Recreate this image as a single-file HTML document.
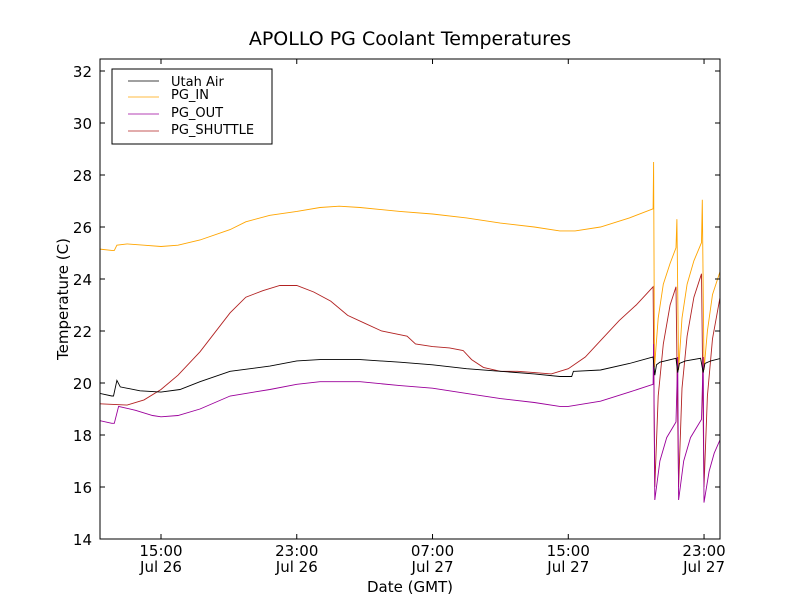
<!DOCTYPE html>
<html><head><meta charset="utf-8"><style>
body{margin:0;background:#fff;}
svg{display:block;font-family:"DejaVu Sans","Liberation Sans",sans-serif;}
</style></head><body>
<svg id="chart" width="800" height="600" viewBox="0 0 800 600">
<rect x="0" y="0" width="800" height="600" fill="#fff"/>
<text x="410" y="45" font-size="19" text-anchor="middle">APOLLO PG Coolant Temperatures</text>
<g id="plot"></g>
<text x="410" y="592" font-size="15" text-anchor="middle">Date (GMT)</text>
<text transform="translate(68,299) rotate(-90)" font-size="15" text-anchor="middle">Temperature (C)</text>
<g>
<rect x="112" y="69" width="160" height="75" fill="#fff" stroke="#000" stroke-width="1"/>
<line x1="128" y1="81" x2="159" y2="81" stroke="#000" stroke-width="0.8"/><text x="171" y="86" font-size="13">Utah Air</text>
<line x1="128" y1="97" x2="159" y2="97" stroke="#FFA500" stroke-width="0.8"/><text x="171" y="99" font-size="13">PG_IN</text>
<line x1="128" y1="114" x2="159" y2="114" stroke="#9B009B" stroke-width="0.8"/><text x="171" y="117" font-size="13">PG_OUT</text>
<line x1="128" y1="131" x2="159" y2="131" stroke="#B22222" stroke-width="0.8"/><text x="171" y="134" font-size="13">PG_SHUTTLE</text>
</g>
</svg>
<script>
// hours relative to 15:00 Jul 26
const yTicks=[14,16,18,20,22,24,26,28,30,32];
const xTickHours=[0,8,16,24,32];
const xTickTimes=["15:00","23:00","07:00","15:00","23:00"];
const xTickDates=["Jul 26","Jul 26","Jul 27","Jul 27","Jul 27"];
const airT=[-3.6,-2.9,-2.8,-2.6,-2.4,-1.24,0,1.12,2.3,4.07,6.42,8,9.37,11.73,14.08,16,18,20,22,23.5,24.2,24.3,24.4,25.9,27.6,29,29.1,29.2,29.4,30.35,30.45,30.55,30.9,31.8,31.95,32.05,32.4,33];
const airV=[19.6,19.5,19.5,20.1,19.85,19.7,19.65,19.75,20.05,20.45,20.65,20.85,20.9,20.9,20.8,20.7,20.55,20.45,20.35,20.25,20.25,20.45,20.45,20.5,20.75,21.0,20.3,20.7,20.8,20.95,20.4,20.75,20.85,20.95,20.4,20.75,20.85,20.95];
const inT=[-3.6,-2.9,-2.75,-2.6,-2,-1,0,1,2.3,4.07,5,6.42,8,9.37,10.5,11.73,14.08,16,18,20,22,23.5,24.4,25.9,27.6,29,29.03,29.08,29.3,29.6,30,30.35,30.4,30.5,30.7,31,31.4,31.85,31.9,32,32.2,32.5,33];
const inV=[25.15,25.1,25.1,25.3,25.35,25.3,25.25,25.3,25.5,25.9,26.2,26.45,26.6,26.75,26.8,26.75,26.6,26.5,26.35,26.15,26,25.85,25.85,26,26.35,26.7,28.5,20.6,22.5,23.8,24.6,25.2,26.3,20.5,22.5,23.8,24.7,25.4,27.05,20.5,22.0,23.4,24.4];
const outT=[-3.6,-2.9,-2.75,-2.5,-1.5,-0.5,0,1,2.3,4.07,6.42,8,9.37,11.73,14.08,16,18,20,22,23.5,24,25.9,27.6,29,29.03,29.1,29.4,29.8,30.35,30.45,30.5,30.8,31.2,31.85,31.95,32,32.3,32.6,33];
const outV=[18.55,18.45,18.45,19.1,18.95,18.75,18.7,18.75,19.0,19.5,19.75,19.95,20.05,20.05,19.9,19.8,19.6,19.4,19.25,19.1,19.1,19.3,19.65,19.95,21.5,15.5,17.0,17.9,18.5,21.0,15.5,17.0,17.9,18.6,21.0,15.4,16.6,17.3,17.9];
const shT=[-3.6,-2,-1,0,1,2.3,4.07,5,6,7,8,9,10,11,12,13,14.5,15,16,17,17.8,18.3,19,20,21,22,23,24,25,26,27,28,29,29.1,29.3,29.6,30,30.35,30.5,30.7,31,31.4,31.85,32,32.2,32.5,33];
const shV=[19.2,19.15,19.35,19.75,20.3,21.2,22.7,23.3,23.55,23.75,23.75,23.5,23.15,22.6,22.3,22.0,21.8,21.5,21.4,21.35,21.25,20.9,20.6,20.45,20.45,20.4,20.35,20.55,21.0,21.7,22.4,23.0,23.7,16.0,19.5,21.5,23.0,23.7,16.0,19.8,21.8,23.3,24.2,16.0,19.5,21.7,23.5];
const L=100,R=720,T=59,B=539;
function xs(h){return 161+h*16.97;}
function ys(v){return B-(v-14)*26;}
const NS="http://www.w3.org/2000/svg";
const g=document.getElementById('plot');
function el(tag,attrs){const e=document.createElementNS(NS,tag);for(const k in attrs)e.setAttribute(k,attrs[k]);g.appendChild(e);return e;}
const clip=document.createElementNS(NS,'clipPath');clip.setAttribute('id','cp');
const cr=document.createElementNS(NS,'rect');cr.setAttribute('x',L);cr.setAttribute('y',T);cr.setAttribute('width',R-L);cr.setAttribute('height',B-T);clip.appendChild(cr);g.appendChild(clip);
function series(ts,vs,color,name){
  const d=ts.map((t,i)=>(i?'L':'M')+xs(t).toFixed(1)+' '+ys(vs[i]).toFixed(1)).join(' ');
  const p=el('path',{d:d,fill:'none',stroke:color,'stroke-width':'0.9','clip-path':'url(#cp)'});
  
  
}
series(shT,shV,'#B22222','line-pg-shuttle');
series(inT,inV,'#FFA500','line-pg-in');
series(outT,outV,'#9B009B','line-pg-out');
series(airT,airV,'#000000','line-utah-air');
const frame=el('rect',{x:L,y:T,width:R-L,height:B-T,fill:'none',stroke:'#000','stroke-width':'1'});


yTicks.forEach(v=>{
  const y=ys(v);
  el('line',{x1:L,y1:y,x2:L+5,y2:y,stroke:'#000'});
  el('line',{x1:R,y1:y,x2:R-5,y2:y,stroke:'#000'});
  const t=el('text',{x:L-8,y:y+6,'font-size':'15','text-anchor':'end'});
  t.textContent=v;
  
  
});
xTickHours.forEach((h,i)=>{
  const x=xs(h);
  el('line',{x1:x,y1:B,x2:x,y2:B-5,stroke:'#000'});
  el('line',{x1:x,y1:T,x2:x,y2:T+5,stroke:'#000'});
  const t1=el('text',{x:x,y:B+17,'font-size':'15','text-anchor':'middle'});
  t1.textContent=xTickTimes[i];
  
  
  const t2=el('text',{x:x,y:B+33,'font-size':'15','text-anchor':'middle'});
  t2.textContent=xTickDates[i];
  
  
});
</script>
</body></html>
